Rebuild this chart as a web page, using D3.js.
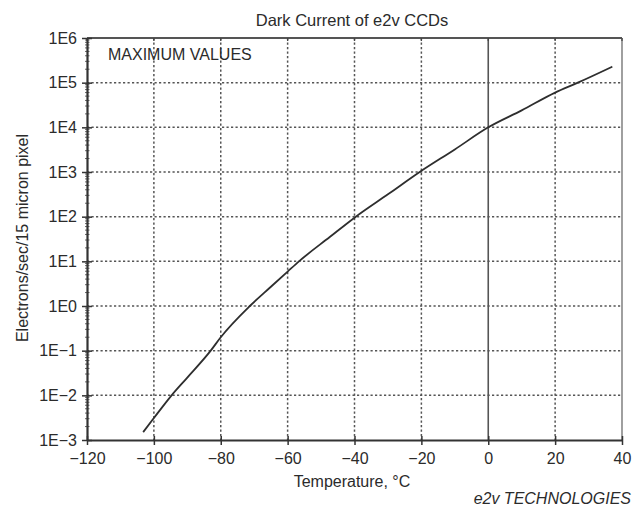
<!DOCTYPE html>
<html>
<head>
<meta charset="utf-8">
<script src="https://cdn.jsdelivr.net/npm/d3@7/dist/d3.min.js"></script>
<style>
  html, body { margin: 0; padding: 0; background: #fff; }
  svg { display: block; }
  text { font-family: "Liberation Sans", Arial, Helvetica, sans-serif; fill: #2b2b2b; }
</style>
</head>
<body>
<svg id="chart" width="634" height="509"></svg>
<script>
// ---- data ----
const title = "Dark Current of e2v CCDs";
const xTitle = "Temperature, °C";
const yTitle = "Electrons/sec/15 micron pixel";
const note = "MAXIMUM VALUES";
const credit = "e2v TECHNOLOGIES";

const temperatures = [-103.2, -100, -94.7, -90, -83, -80, -71.3, -65, -60, -56.6, -47.4, -39.6, -30, -20.5, -10, 0, 10, 20, 26.8, 37.1];
const darkCurrent  = [1.5e-3, 3.1e-3, 1e-2, 2.5e-2, 1e-1, 2e-1, 1, 2.7, 5.9, 10, 35, 100, 316, 1000, 3200, 1e4, 2.4e4, 6e4, 1e5, 2.28e5];

const xTickValues = [-120, -100, -80, -60, -40, -20, 0, 20, 40];
const xTickLabels = ["−120", "−100", "−80", "−60", "−40", "−20", "0", "20", "40"];
const yTickValues = [1e-3, 1e-2, 1e-1, 1e0, 1e1, 1e2, 1e3, 1e4, 1e5, 1e6];
const yTickLabels = ["1E−3", "1E−2", "1E−1", "1E0", "1E1", "1E2", "1E3", "1E4", "1E5", "1E6"];

// ---- layout ----
const L = 87, R = 622, T = 38, B = 440;
const svg = d3.select("#chart");
const x = d3.scaleLinear().domain([-120, 40]).range([L, R]);
const y = d3.scaleLog().domain([1e-3, 1e6]).range([B, T]);

// grid
const grid = svg.append("g");
grid.selectAll("line.vg").data(xTickValues.filter(v => v > -120 && v < 40))
  .enter().append("line")
  .attr("x1", d => x(d)).attr("x2", d => x(d))
  .attr("y1", T).attr("y2", B)
  .attr("stroke", d => d === 0 ? "#555" : "#555")
  .attr("stroke-width", d => d === 0 ? 1.6 : 1.5)
  .attr("stroke-dasharray", d => d === 0 ? null : "2.2,2.3");
grid.selectAll("line.hg").data(yTickValues.filter(v => v > 1e-3 && v < 1e6))
  .enter().append("line")
  .attr("x1", L).attr("x2", R)
  .attr("y1", d => y(d)).attr("y2", d => y(d))
  .attr("stroke", "#555")
  .attr("stroke-width", 1.5)
  .attr("stroke-dasharray", "2.2,2.3");

// frame top/right
svg.append("line").attr("x1", L).attr("x2", R).attr("y1", T).attr("y2", T)
  .attr("stroke", "#555").attr("stroke-width", 1.8);
svg.append("line").attr("x1", R).attr("x2", R).attr("y1", T).attr("y2", B)
  .attr("stroke", "#777").attr("stroke-width", 1.4);

// top ticks
svg.append("g").selectAll("line").data(xTickValues).enter().append("line")
  .attr("x1", d => x(d)).attr("x2", d => x(d)).attr("y1", T).attr("y2", T + 3)
  .attr("stroke", "#444").attr("stroke-width", 1.3);

// minor ticks on the left axis
const minor = [];
yTickValues.slice(0, -1).forEach(v => { for (let k = 2; k <= 9; k++) minor.push(v * k); });
svg.append("g").selectAll("line").data(minor).enter().append("line")
  .attr("x1", L - 2).attr("x2", L + 2.5)
  .attr("y1", d => y(d)).attr("y2", d => y(d))
  .attr("stroke", "#555").attr("stroke-width", 0.9);

// axes
const xAxis = d3.axisBottom(x).tickValues(xTickValues)
  .tickFormat((d, i) => xTickLabels[i]).tickSizeInner(5).tickSizeOuter(0).tickPadding(8);
const gx = svg.append("g").attr("transform", `translate(0,${B})`).call(xAxis);
gx.select(".domain").attr("stroke", "#333").attr("stroke-width", 2.2);
gx.selectAll(".tick line").attr("stroke", "#333").attr("stroke-width", 1.5).attr("y1", -4);
gx.selectAll(".tick text").attr("font-size", 16).attr("fill", "#2b2b2b")
  .attr("font-family", "Liberation Sans, Arial, sans-serif");

const yAxis = d3.axisLeft(y).tickValues(yTickValues)
  .tickFormat((d, i) => yTickLabels[i]).tickSizeInner(5).tickSizeOuter(0).tickPadding(5);
const gy = svg.append("g").attr("transform", `translate(${L},0)`).call(yAxis);
gy.select(".domain").attr("stroke", "#333").attr("stroke-width", 2.2);
gy.selectAll(".tick line").attr("stroke", "#333").attr("stroke-width", 1.5).attr("x2", -5).attr("x1", 5);
gy.selectAll(".tick text").attr("font-size", 16).attr("fill", "#2b2b2b")
  .attr("font-family", "Liberation Sans, Arial, sans-serif").attr("x", -10);

// curve
const pts = temperatures.map((t, i) => [t, darkCurrent[i]]);
svg.append("path").datum(pts)
  .attr("fill", "none").attr("stroke", "#2e2e2e").attr("stroke-width", 1.8)
  .attr("d", d3.line().x(d => x(d[0])).y(d => y(d[1])).curve(d3.curveMonotoneX));

// texts
svg.append("text").attr("x", 352).attr("y", 26).attr("text-anchor", "middle")
  .attr("font-size", 16.5).text(title);
svg.append("text").attr("x", 108).attr("y", 60).attr("font-size", 16).text(note);
svg.append("text").attr("x", 352).attr("y", 487).attr("text-anchor", "middle")
  .attr("font-size", 16).text(xTitle);
svg.append("text").attr("x", 631).attr("y", 504).attr("text-anchor", "end")
  .attr("font-size", 16).attr("font-style", "italic").text(credit);
svg.append("text").attr("transform", "translate(28,238) rotate(-90)")
  .attr("text-anchor", "middle").attr("font-size", 16).text(yTitle);
</script>
</body>
</html>
